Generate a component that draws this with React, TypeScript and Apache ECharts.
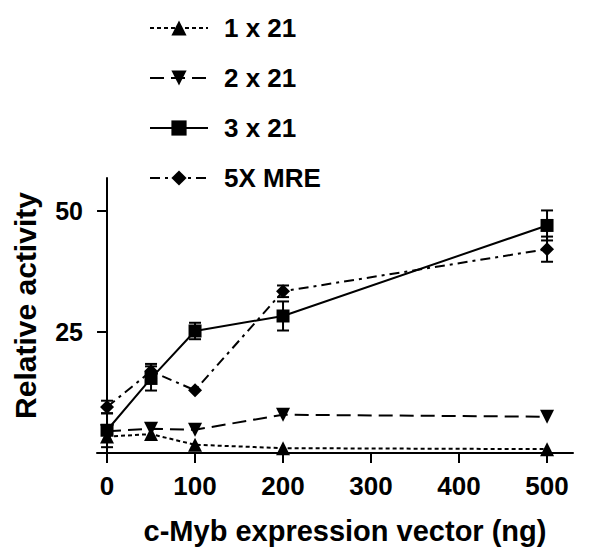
import React, { useEffect, useRef } from "react";
import * as echarts from "echarts";

const doses = [0, 50, 100, 200, 500];
const xTicks = [0, 100, 200, 300, 400, 500];
const yTicks = [25, 50];
const s1x21 = [3.4, 3.9, 1.7, 1.0, 0.8];
const s2x21 = [4.5, 5.0, 4.8, 7.9, 7.5];
const s3x21 = [4.7, 15.4, 25.2, 28.3, 47.0];
const s3x21Err = [3.5, 2.5, 1.7, 3.0, 3.1];
const sMRE = [9.5, 16.9, 12.95, 33.4, 42.1];
const sMREErr = [1.3, 1.5, 0, 1.2, 2.6];

const FONT = "'Liberation Sans', Arial, Helvetica, sans-serif";

function pairs(ys: number[]) {
  return doses.map((x, i) => [x, ys[i]]);
}
function errData(ys: number[], es: number[]) {
  return doses.map((x, i) => [x, ys[i], es[i]]);
}

function errorSeries(ys: number[], es: number[]) {
  return {
    type: "custom",
    data: errData(ys, es),
    encode: { x: 0, y: 1 },
    z: 1,
    silent: true,
    renderItem: (params: any, api: any) => {
      const x = api.value(0);
      const y = api.value(1);
      const e = api.value(2);
      if (!e) return null;
      const hi = api.coord([x, y + e]);
      const lo = api.coord([x, y - e]);
      const w = 6;
      const style = { stroke: "#000", lineWidth: 2 };
      return {
        type: "group",
        children: [
          { type: "line", shape: { x1: hi[0], y1: hi[1], x2: lo[0], y2: lo[1] }, style },
          { type: "line", shape: { x1: hi[0] - w, y1: hi[1], x2: hi[0] + w, y2: hi[1] }, style },
          { type: "line", shape: { x1: lo[0] - w, y1: lo[1], x2: lo[0] + w, y2: lo[1] }, style },
        ],
      };
    },
  };
}

export default function App() {
  const ref = useRef<HTMLDivElement>(null);
  useEffect(() => {
    if (!ref.current) return;
    const chart = echarts.init(ref.current, undefined, { renderer: "svg" });
    const lineBase = {
      type: "line",
      z: 3,
      itemStyle: { color: "#000" },
      emphasis: { disabled: true },
    };
    chart.setOption({
      animation: false,
      backgroundColor: "#fff",
      textStyle: { fontFamily: FONT },
      grid: { left: 97, right: 27, top: 178, bottom: 104 },
      legend: {
        orient: "vertical",
        left: 144,
        top: 10,
        itemWidth: 58,
        itemHeight: 19,
        itemGap: 24,
        data: ["1 x 21", "2 x 21", "3 x 21", "5X MRE"],
        textStyle: {
          fontFamily: FONT,
          fontWeight: "bold",
          fontSize: 26,
          color: "#000",
          padding: [0, 0, 0, 11],
        },
      },
      xAxis: {
        type: "value",
        min: -11.4,
        max: 529.5,
        name: "c-Myb expression vector (ng)",
        nameLocation: "middle",
        nameGap: 63,
        nameTextStyle: {
          fontFamily: FONT,
          fontWeight: "bold",
          fontSize: 29,
          color: "#000",
          padding: [0, 0, 0, 20],
        },
        splitLine: { show: false },
        axisLine: { lineStyle: { color: "#000", width: 2 } },
        axisTick: {
          show: true,
          length: 10,
          lineStyle: { color: "#000", width: 2 },
          customValues: xTicks,
        },
        axisLabel: {
          customValues: xTicks,
          margin: 20,
          fontFamily: FONT,
          fontWeight: "bold",
          fontSize: 26,
          color: "#000",
        },
      },
      yAxis: {
        type: "value",
        min: 0,
        max: 56.8,
        name: "Relative activity",
        nameLocation: "middle",
        nameGap: 57,
        nameTextStyle: {
          fontFamily: FONT,
          fontWeight: "bold",
          fontSize: 30,
          color: "#000",
          padding: [0, 0, 0, 20],
        },
        splitLine: { show: false },
        axisLine: { show: true, lineStyle: { color: "#000", width: 2 } },
        axisTick: {
          show: true,
          length: 10,
          lineStyle: { color: "#000", width: 2 },
          customValues: yTicks,
        },
        axisLabel: {
          customValues: yTicks,
          margin: 14,
          fontFamily: FONT,
          fontWeight: "bold",
          fontSize: 25,
          color: "#000",
        },
      },
      series: [
        errorSeries(s3x21, s3x21Err),
        errorSeries(sMRE, sMREErr),
        {
          ...lineBase,
          name: "1 x 21",
          data: pairs(s1x21),
          symbol: "triangle",
          symbolSize: 14,
          lineStyle: { color: "#000", width: 2, type: [4, 3] },
        },
        {
          ...lineBase,
          name: "2 x 21",
          data: pairs(s2x21),
          symbol: "triangle",
          symbolRotate: 180,
          symbolSize: 14,
          lineStyle: { color: "#000", width: 2, type: [14, 7] },
        },
        {
          ...lineBase,
          name: "3 x 21",
          data: pairs(s3x21),
          symbol: "rect",
          symbolSize: 13,
          lineStyle: { color: "#000", width: 2, type: "solid" },
        },
        {
          ...lineBase,
          name: "5X MRE",
          data: pairs(sMRE),
          symbol: "diamond",
          symbolSize: 14,
          lineStyle: { color: "#000", width: 2, type: [10, 5, 3, 5] },
        },
      ],
    });
    return () => chart.dispose();
  }, []);
  return (
    <div
      ref={ref}
      style={{ position: "absolute", left: 0, top: 0, width: 600, height: 557 }}
    />
  );
}
